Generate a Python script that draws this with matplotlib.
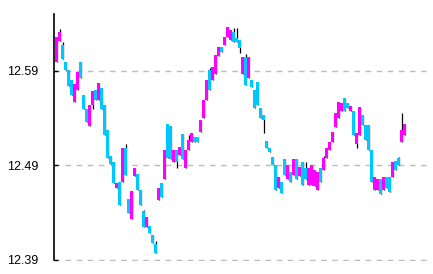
import numpy as np
import matplotlib
matplotlib.use('Agg')
import matplotlib.pyplot as plt
from matplotlib import font_manager

# tick chart values (price), one entry per bar
opens = [12.599, 12.621, 12.617, 12.599, 12.591, 12.580, 12.557, 12.570, 12.599, 12.564,
         12.549, 12.531, 12.554, 12.570, 12.559, 12.572, 12.554, 12.527, 12.500, 12.493,
         12.466, 12.472, 12.472, 12.508, 12.454, 12.433, 12.479, 12.481, 12.464, 12.441,
         12.424, 12.426, 12.416, 12.406, 12.453, 12.471, 12.475, 12.534, 12.531, 12.493,
         12.506, 12.501, 12.523, 12.487, 12.506, 12.515, 12.520, 12.520, 12.525, 12.540,
         12.559, 12.591, 12.580, 12.586, 12.606, 12.615, 12.617, 12.626, 12.623, 12.631,
         12.625, 12.623, 12.586, 12.605, 12.582, 12.580, 12.570, 12.578, 12.551, 12.543,
         12.516, 12.508, 12.499, 12.490, 12.466, 12.472, 12.496, 12.475, 12.483, 12.480,
         12.496, 12.478, 12.493, 12.487, 12.469, 12.469, 12.468, 12.464, 12.487, 12.485,
         12.498, 12.506, 12.514, 12.530, 12.540, 12.547, 12.561, 12.556, 12.547, 12.547,
         12.512, 12.522, 12.543, 12.533, 12.533, 12.506, 12.464, 12.464, 12.475, 12.464,
         12.477, 12.477, 12.477, 12.494, 12.498, 12.514, 12.522]
closes = [12.626, 12.631, 12.602, 12.591, 12.574, 12.564, 12.576, 12.589, 12.582, 12.549,
          12.536, 12.554, 12.568, 12.559, 12.577, 12.549, 12.522, 12.498, 12.491, 12.471,
          12.471, 12.448, 12.508, 12.480, 12.439, 12.463, 12.487, 12.464, 12.448, 12.425,
          12.435, 12.418, 12.408, 12.397, 12.466, 12.456, 12.506, 12.498, 12.496, 12.506,
          12.493, 12.509, 12.496, 12.506, 12.517, 12.524, 12.515, 12.514, 12.538, 12.559,
          12.580, 12.570, 12.594, 12.607, 12.615, 12.610, 12.626, 12.636, 12.633, 12.620,
          12.620, 12.614, 12.604, 12.575, 12.605, 12.573, 12.551, 12.554, 12.540, 12.538,
          12.508, 12.504, 12.490, 12.464, 12.477, 12.461, 12.480, 12.490, 12.472, 12.496,
          12.475, 12.488, 12.469, 12.475, 12.487, 12.490, 12.485, 12.483, 12.472, 12.498,
          12.508, 12.514, 12.525, 12.545, 12.557, 12.556, 12.547, 12.551, 12.553, 12.522,
          12.524, 12.552, 12.533, 12.517, 12.506, 12.472, 12.477, 12.475, 12.459, 12.477,
          12.466, 12.462, 12.493, 12.485, 12.490, 12.527, 12.534]
highs = [12.626, 12.634, 12.620, 12.599, 12.591, 12.580, 12.576, 12.589, 12.599, 12.564,
         12.549, 12.554, 12.568, 12.570, 12.577, 12.572, 12.554, 12.527, 12.500, 12.493,
         12.471, 12.472, 12.508, 12.512, 12.454, 12.463, 12.487, 12.481, 12.464, 12.443,
         12.435, 12.426, 12.416, 12.410, 12.466, 12.471, 12.506, 12.534, 12.531, 12.506,
         12.506, 12.509, 12.523, 12.506, 12.522, 12.524, 12.520, 12.520, 12.538, 12.559,
         12.580, 12.593, 12.594, 12.607, 12.615, 12.615, 12.626, 12.636, 12.633, 12.635,
         12.635, 12.623, 12.604, 12.608, 12.605, 12.580, 12.570, 12.578, 12.551, 12.543,
         12.516, 12.508, 12.499, 12.490, 12.477, 12.472, 12.496, 12.490, 12.483, 12.496,
         12.496, 12.488, 12.493, 12.493, 12.487, 12.490, 12.485, 12.483, 12.487, 12.500,
         12.508, 12.514, 12.525, 12.545, 12.557, 12.556, 12.561, 12.556, 12.553, 12.547,
         12.524, 12.552, 12.543, 12.533, 12.533, 12.506, 12.477, 12.475, 12.475, 12.477,
         12.477, 12.477, 12.493, 12.494, 12.499, 12.545, 12.534]
lows = [12.599, 12.621, 12.602, 12.591, 12.574, 12.564, 12.557, 12.570, 12.582, 12.549,
        12.536, 12.531, 12.549, 12.559, 12.559, 12.549, 12.522, 12.498, 12.491, 12.471,
        12.466, 12.448, 12.472, 12.480, 12.439, 12.433, 12.479, 12.464, 12.448, 12.425,
        12.424, 12.418, 12.408, 12.397, 12.453, 12.456, 12.475, 12.498, 12.496, 12.493,
        12.487, 12.501, 12.496, 12.487, 12.506, 12.515, 12.515, 12.514, 12.525, 12.540,
        12.559, 12.570, 12.580, 12.586, 12.606, 12.610, 12.617, 12.626, 12.623, 12.620,
        12.620, 12.609, 12.586, 12.575, 12.582, 12.573, 12.551, 12.554, 12.540, 12.524,
        12.508, 12.504, 12.490, 12.464, 12.466, 12.461, 12.480, 12.475, 12.472, 12.480,
        12.475, 12.478, 12.469, 12.475, 12.469, 12.469, 12.468, 12.464, 12.472, 12.485,
        12.498, 12.506, 12.514, 12.530, 12.540, 12.547, 12.547, 12.551, 12.547, 12.522,
        12.508, 12.522, 12.533, 12.517, 12.506, 12.472, 12.464, 12.464, 12.459, 12.464,
        12.466, 12.462, 12.477, 12.485, 12.490, 12.514, 12.522]
yticks = [12.39, 12.49, 12.59]

UP = '#ff00ff'
DOWN = '#00c8ff'

# narrow face for the price labels, whichever is there
installed = {f.name for f in font_manager.fontManager.ttflist}
narrow = [f for f in ['Liberation Sans Narrow', 'DejaVu Sans Condensed'] if f in installed]
plt.rcParams['font.family'] = narrow + ['Liberation Sans', 'DejaVu Sans']
label_size = 9.5 if narrow else 9

fig = plt.figure(figsize=(4.33, 2.74), dpi=100)
ax = fig.add_axes([54 / 433, 1 - 261 / 274, 374 / 433, 247 / 274])

x = np.arange(len(opens))
o = np.array(opens)
c = np.array(closes)
up = c >= o

ax.vlines(x + 0.25, lows, highs, color='black', linewidth=0.9, zorder=2)
ax.bar(x, c - o, bottom=o, width=0.85, color=np.where(up, UP, DOWN),
       linewidth=0, zorder=3)

ax.set_xlim(-0.83, 123.8)
ax.set_ylim(12.3885, 12.650)
ax.set_yticks(yticks)
ax.set_yticklabels([f'{v:.2f}' for v in yticks])
ax.set_xticks([])
ax.tick_params(axis='y', direction='in', length=3, width=1, pad=11.5,
               labelsize=label_size, colors='black')
ax.yaxis.grid(True, linestyle=(0, (4, 4)), color='#bbbbbb', linewidth=1)
ax.set_axisbelow(True)

for s in ['top', 'right', 'bottom']:
    ax.spines[s].set_visible(False)
ax.spines['left'].set_linewidth(1.2)
ax.spines['left'].set_bounds(12.39, 12.650)

fig.savefig('out.png', dpi=100)
